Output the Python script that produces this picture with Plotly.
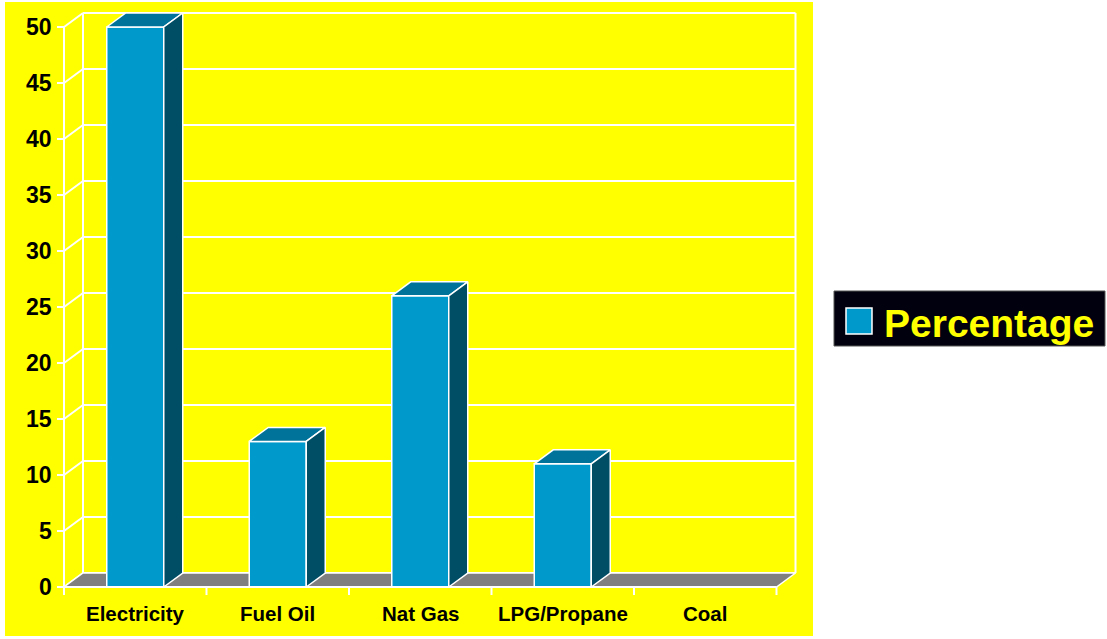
import plotly.graph_objects as go

# ---------------- data ----------------
categories = ["Electricity", "Fuel Oil", "Nat Gas", "LPG/Propane", "Coal"]
percentages = [50, 13, 26, 11, 0]
y_ticks = [0, 5, 10, 15, 20, 25, 30, 35, 40, 45, 50]
tick_labels = [str(v) for v in y_ticks]
series_name = "Percentage"

# ---------------- styling / geometry ----------------
W, H = 1107, 639
PLOT_L, PLOT_R, PLOT_T, PLOT_B = 5, 813, 2, 636      # yellow area in px
AX_X0, CAT_PX = 64, 142.5                             # px of first category edge, px per category
AX_Y0, UNIT_PX = 587, 11.2                            # px of value 0, px per unit
DEPTH_X_PX, DEPTH_Y_PX = 19, 14                       # 3D depth offset
BAR_W = 0.4

YELLOW = "#FFFF00"
FRONT = "#0099CC"
TOP = "#00739A"
SIDE = "#004D66"
FLOOR = "#808080"
WHITE = "#FFFFFF"
FONT = "Arial, Liberation Sans, sans-serif"

x_range = [(PLOT_L - AX_X0) / CAT_PX, (PLOT_R - AX_X0) / CAT_PX]
y_range = [(AX_Y0 - PLOT_B) / UNIT_PX, (AX_Y0 - PLOT_T) / UNIT_PX]
DX = DEPTH_X_PX / CAT_PX
DY = DEPTH_Y_PX / UNIT_PX
n = len(categories)
y_max = max(y_ticks)


def px_x(p):
    return (p - PLOT_L) / (PLOT_R - PLOT_L)


def px_y(p):
    return (PLOT_B - p) / (PLOT_B - PLOT_T)


shapes = []


def line(x0, y0, x1, y1, layer="below", width=2, color=WHITE):
    shapes.append(dict(type="line", xref="x", yref="y", x0=x0, y0=y0, x1=x1, y1=y1,
                       line=dict(color=color, width=width), layer=layer))


# walls grid
for v in y_ticks:
    line(0, v, DX, v + DY)
    line(DX, v + DY, n + DX, v + DY)
line(DX, DY, DX, y_max + DY)
line(n + DX, DY, n + DX, y_max + DY)
line(0, 0, 0, y_max)

fig = go.Figure()


def poly(xs, ys, fill):
    fig.add_trace(go.Scatter(
        x=xs + [xs[0]], y=ys + [ys[0]], mode="lines", fill="toself",
        fillcolor=fill, line=dict(color=WHITE, width=1.5),
        hoverinfo="skip", showlegend=False))


# floor
poly([0, n, n + DX, DX], [0, 0, DY, DY], FLOOR)

# bars
for i, v in enumerate(percentages):
    if v <= 0:
        continue
    x0 = i + 0.5 - BAR_W / 2
    x1 = i + 0.5 + BAR_W / 2
    poly([x0, x1, x1, x0], [0, 0, v, v], FRONT)
    poly([x0, x1, x1 + DX, x0 + DX], [v, v, v + DY, v + DY], TOP)
    poly([x1, x1 + DX, x1 + DX, x1], [0, DY, v + DY, v], SIDE)

# front axis line and ticks
line(0, 0, n, 0, layer="above")
for k in range(n + 1):
    line(k, 0, k, -8 / UNIT_PX, layer="above")
for v in y_ticks:
    line(-7 / CAT_PX, v, 0, v, layer="above")

annotations = []
for v, t in zip(y_ticks, tick_labels):
    annotations.append(dict(x=0, y=v, xref="x", yref="y", text=t, showarrow=False,
                            xanchor="right", yanchor="middle", xshift=-10,
                            font=dict(family=FONT, size=23, color="black", weight="bold")))
for i, c in enumerate(categories):
    annotations.append(dict(x=i + 0.5, y=0, xref="x", yref="y", text=c, showarrow=False,
                            xanchor="center", yanchor="middle", yshift=-26,
                            font=dict(family=FONT, size=20.5, color="black", weight="bold")))

# legend (drawn manually)
shapes.append(dict(type="rect", xref="paper", yref="paper",
                   x0=px_x(834), x1=px_x(1105), y0=px_y(346), y1=px_y(291),
                   fillcolor="#00000F", line=dict(color="#555555", width=1), layer="above"))
shapes.append(dict(type="rect", xref="paper", yref="paper",
                   x0=px_x(846), x1=px_x(872), y0=px_y(334), y1=px_y(308),
                   fillcolor=FRONT, line=dict(color=WHITE, width=1.5), layer="above"))
annotations.append(dict(x=px_x(882), y=px_y(323), xref="paper", yref="paper", text=series_name,
                        showarrow=False, xanchor="left", yanchor="middle",
                        font=dict(family=FONT, size=39, color=YELLOW, weight="bold")))

fig.update_layout(
    width=W, height=H,
    margin=dict(l=PLOT_L, r=W - PLOT_R, t=PLOT_T, b=H - PLOT_B, pad=0),
    paper_bgcolor="white", plot_bgcolor=YELLOW,
    xaxis=dict(visible=False, range=x_range, fixedrange=True),
    yaxis=dict(visible=False, range=y_range, fixedrange=True),
    shapes=shapes, annotations=annotations, showlegend=False,
)

fig.write_html("out.html")
